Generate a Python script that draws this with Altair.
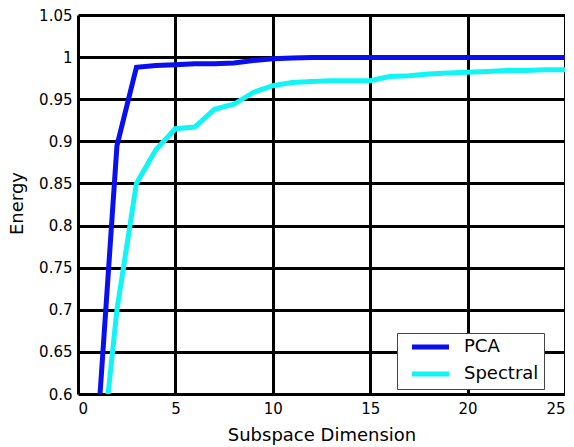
import altair as alt
import pandas as pd

dims = list(range(1, 26))
pca = [0.555, 0.895, 0.988, 0.990, 0.991, 0.992, 0.992, 0.993, 0.996, 0.998,
       0.999, 0.9995, 0.9995, 0.9995, 0.9995, 0.9995, 0.9995, 0.9995, 0.9995, 0.9995,
       0.9995, 0.9995, 0.9995, 0.9995, 0.9995]
spectral = [0.48, 0.70, 0.85, 0.89, 0.915, 0.917, 0.938, 0.944, 0.958, 0.966,
            0.970, 0.971, 0.972, 0.972, 0.972, 0.977, 0.978, 0.980, 0.981, 0.982,
            0.983, 0.984, 0.984, 0.985, 0.985]
series = ["PCA", "Spectral"]
colors = ["#0a0ff0", "#11f5f5"]
x_ticks = [0, 5, 10, 15, 20, 25]
y_ticks = [0.6, 0.65, 0.7, 0.75, 0.8, 0.85, 0.9, 0.95, 1.0, 1.05]

rows = []
for d, p, s in zip(dims, pca, spectral):
    rows.append({"dim": d, "energy": p, "method": series[0]})
    rows.append({"dim": d, "energy": s, "method": series[1]})
df = pd.DataFrame(rows)

font = "DejaVu Sans"

chart = alt.Chart(df).mark_line(strokeWidth=5, clip=True).encode(
    x=alt.X("dim:Q", scale=alt.Scale(domain=[0, 25], nice=False),
            axis=alt.Axis(values=x_ticks, title="Subspace Dimension", format="~g",
                          grid=True, gridColor="black", gridWidth=3, gridOpacity=1,
                          ticks=False, domain=False, labelPadding=7,
                          labelFontSize=15, titleFontSize=18,
                          titleY=46, titleBaseline="alphabetic",
                          labelColor="black", titleColor="black", titleFontWeight="normal")),
    y=alt.Y("energy:Q", scale=alt.Scale(domain=[0.6, 1.05], nice=False, zero=False),
            axis=alt.Axis(values=y_ticks, title="Energy", format="~g",
                          grid=True, gridColor="black", gridWidth=3, gridOpacity=1,
                          ticks=False, domain=False, labelPadding=6,
                          labelFontSize=15, titleFontSize=18,
                          titleX=-61, titleY=188, titleBaseline="middle",
                          labelColor="black", titleColor="black", titleFontWeight="normal")),
    color=alt.Color("method:N", scale=alt.Scale(domain=series, range=colors),
                    legend=alt.Legend(title=None, orient="none", legendX=319, legendY=318,
                                      symbolType="M0.2,0L7.6,0", symbolStrokeWidth=5, symbolSize=100,
                                      labelFontSize=18, labelColor="black",
                                      labelExpr="datum.label + '\u2007\u2007\u2007'",
                                      fillColor="white", strokeColor="#444444",
                                      padding=5, rowPadding=7, labelOffset=44)),
).properties(
    width=487, height=379,
    autosize=alt.AutoSizeParams(type="none"),
    padding={"left": 70, "top": 7, "right": 0, "bottom": 53},
).configure_view(
    stroke="black", strokeWidth=4
).configure(font=font)

chart.save("out.html", embed_options={"renderer": "svg", "actions": False})
